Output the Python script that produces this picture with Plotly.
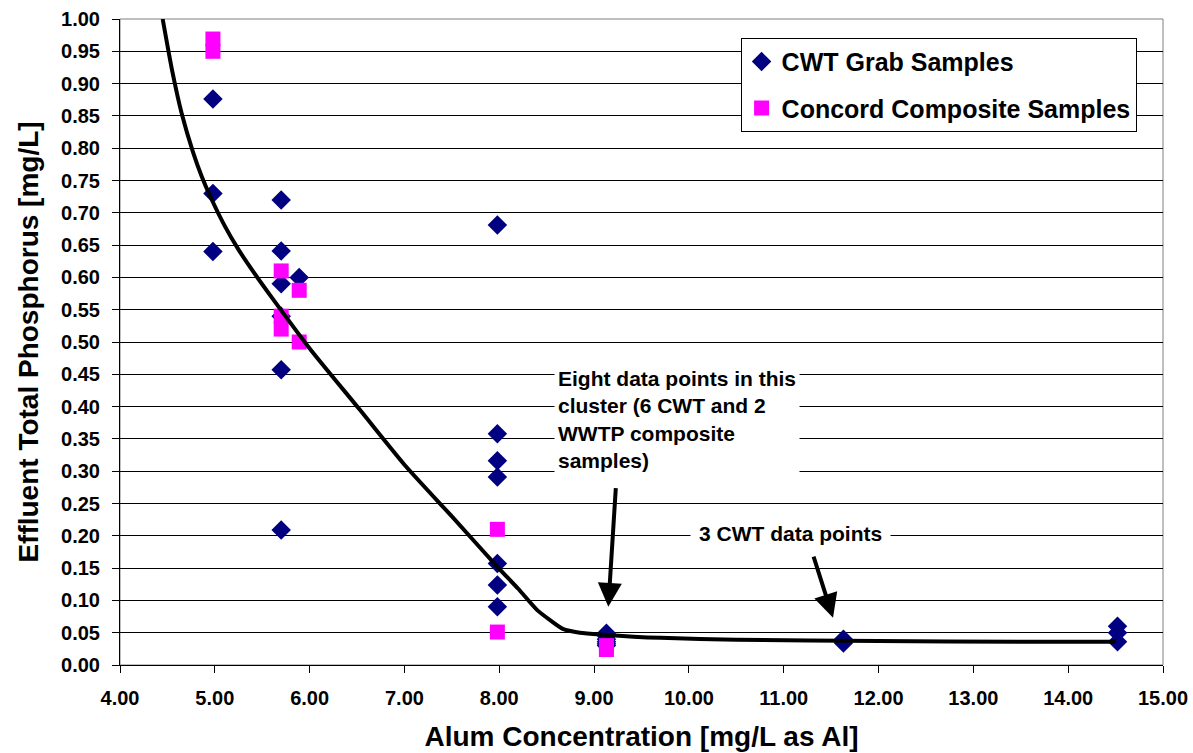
import plotly.graph_objects as go

# ---- data ----
cwt_x = [4.98, 4.98, 4.98,
         5.70, 5.70, 5.70, 5.70, 5.70, 5.70,
         5.89,
         7.98, 7.98, 7.98, 7.98, 7.98, 7.98, 7.98,
         9.13, 9.13, 9.13, 9.13, 9.13, 9.13,
         11.63, 11.63, 11.63,
         14.52, 14.52, 14.52]
cwt_y = [0.876, 0.730, 0.640,
         0.720, 0.641, 0.590, 0.540, 0.457, 0.209,
         0.600,
         0.681, 0.358, 0.316, 0.291, 0.157, 0.124, 0.090,
         0.049, 0.045, 0.040, 0.036, 0.033, 0.030,
         0.040, 0.037, 0.034,
         0.060, 0.050, 0.036]

conc_x = [4.98, 4.98, 5.70, 5.70, 5.70, 5.89, 5.89, 7.98, 7.98, 9.13, 9.13]
conc_y = [0.969, 0.950, 0.610, 0.540, 0.520, 0.580, 0.500, 0.210, 0.051, 0.030, 0.024]

fit_x = [4.45, 4.55, 4.65, 4.77, 4.86, 4.95, 5.10, 5.25, 5.40, 5.60, 6.00, 6.53, 7.00, 7.50,
         7.98, 8.20, 8.40, 8.55, 8.67, 8.85, 9.10, 9.70, 10.50, 12.00, 13.50, 14.50]
fit_y = [1.000, 0.920, 0.854, 0.794, 0.757, 0.726, 0.681, 0.643, 0.610, 0.569, 0.490, 0.395,
         0.310, 0.230, 0.152, 0.118, 0.085, 0.068, 0.056, 0.050, 0.047, 0.042, 0.039,
         0.037, 0.036, 0.036]

x_title = "Alum Concentration [mg/L as Al]"
y_title = "Effluent Total Phosphorus [mg/L]"
note_cluster = "Eight data points in this<br>cluster (6 CWT and 2<br>WWTP composite<br>samples)"
note_cwt = "3 CWT data points"

FONT = "Liberation Sans, Arial, sans-serif"

fig = go.Figure()
fig.add_trace(go.Scatter(
    x=cwt_x, y=cwt_y, mode="markers", name="CWT Grab Samples",
    legendgroup="a",
    marker=dict(symbol="diamond", size=15, color="#000080", line=dict(width=0))))
fig.add_trace(go.Scatter(
    x=conc_x, y=conc_y, mode="markers", name="Concord Composite Samples",
    legendgroup="b",
    marker=dict(symbol="square", size=15, color="#FF00FF", line=dict(width=0))))
fig.add_trace(go.Scatter(
    x=fit_x, y=fit_y, mode="lines", showlegend=False, hoverinfo="skip",
    line=dict(color="black", width=4, shape="spline", smoothing=0.6)))

fig.update_layout(
    width=1193, height=753,
    margin=dict(l=120, r=30, t=19, b=88),
    paper_bgcolor="white", plot_bgcolor="white",
    font=dict(family=FONT, color="black"),
    showlegend=True,
    legend=dict(
        x=0.595, y=0.971, xanchor="left", yanchor="top",
        bgcolor="white", bordercolor="black", borderwidth=1,
        font=dict(family=FONT, size=25, weight="bold", color="black"),
        tracegroupgap=11, itemsizing="trace",
    ),
)

fig.update_xaxes(
    range=[4, 15], dtick=1, tick0=4, tickformat=".2f",
    showgrid=False, zeroline=False, automargin=False,
    showline=True, linecolor="black", linewidth=1,
    ticks="outside", ticklen=7, tickcolor="black",
    tickfont=dict(family=FONT, size=20, weight="bold"),
    ticklabelstandoff=8,
    title=dict(text=x_title, font=dict(family=FONT, size=28, weight="bold"), standoff=18),
)
fig.update_yaxes(
    range=[0, 1], dtick=0.05, tick0=0, tickformat=".2f",
    showgrid=True, gridcolor="black", gridwidth=1, zeroline=False, automargin=False,
    showline=True, linecolor="black", linewidth=1,
    ticks="outside", ticklen=7, tickcolor="black",
    tickfont=dict(family=FONT, size=20, weight="bold"),
    ticklabelstandoff=8,
    title=dict(text=y_title, font=dict(family=FONT, size=28, weight="bold"), standoff=14),
)

# plot-area border (gray)
fig.add_shape(type="rect", xref="paper", yref="paper", x0=0, y0=0, x1=1, y1=1,
              line=dict(color="#808080", width=1), layer="below")

# text annotations
fig.add_annotation(x=8.58, y=0.468, xref="x", yref="y", text=note_cluster,
                   showarrow=False, xanchor="left", yanchor="top", align="left",
                   bgcolor="white", borderpad=3,
                   font=dict(family=FONT, size=21, weight="bold", color="black"))
fig.add_annotation(x=11.07, y=0.203, xref="x", yref="y", text=note_cwt,
                   showarrow=False, xanchor="center", yanchor="middle",
                   bgcolor="white", borderpad=8,
                   font=dict(family=FONT, size=21, weight="bold", color="black"))

# arrows
fig.add_annotation(x=9.15, y=0.090, ax=9.23, ay=0.276, xref="x", yref="y",
                   axref="x", ayref="y", text="", showarrow=True,
                   arrowhead=2, arrowsize=1.2, arrowwidth=4, arrowcolor="black")
fig.add_annotation(x=11.52, y=0.073, ax=11.31, ay=0.170, xref="x", yref="y",
                   axref="x", ayref="y", text="", showarrow=True,
                   arrowhead=2, arrowsize=1.2, arrowwidth=4, arrowcolor="black")

fig.write_html("out.html")
